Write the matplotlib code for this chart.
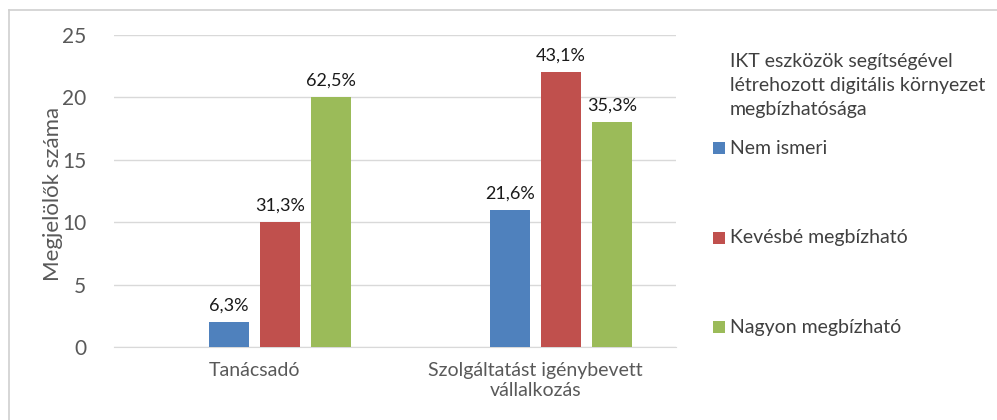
import numpy as np
import matplotlib.pyplot as plt
from matplotlib.patches import Rectangle
from matplotlib.lines import Line2D

plt.rcParams['font.family'] = ['Lato', 'DejaVu Sans']

categories = ['Tanácsadó', 'Szolgáltatást igénybevett\nvállalkozás']
series = ['Nem ismeri', 'Kevésbé megbízható', 'Nagyon megbízható']
counts = [
    [2, 11],
    [10, 22],
    [20, 18],
]
pct_labels = [
    ['6,3%', '21,6%'],
    ['31,3%', '43,1%'],
    ['62,5%', '35,3%'],
]
colors = ['#4F81BD', '#C0504D', '#9BBB59']
legend_title = 'IKT eszközök segítségével\nlétrehozott digitális környezet\nmegbízhatósága'

W, H = 997, 420
fig = plt.figure(figsize=(W / 100, H / 100), dpi=100)
ax = fig.add_axes([114 / W, 1 - 347 / H, (676 - 114) / W, (347 - 35) / H])

x = np.arange(len(categories))
slot = 0.1815
width = 0.142
# Excel layout leaves an empty first slot, so bars sit right of center
offsets = [-0.5 * slot, 0.5 * slot, 1.5 * slot]

for i, name in enumerate(series):
    bars = ax.bar(x + offsets[i], counts[i], width, color=colors[i], label=name, zorder=3)
    for b, lab in zip(bars, pct_labels[i]):
        ax.annotate(lab, (b.get_x() + b.get_width() / 2, b.get_height()),
                    xytext=(0, 6), textcoords='offset points',
                    ha='center', va='bottom', fontsize=13, color='#1a1a1a')

ax.set_xlim(-0.5, 1.5)
ax.set_ylim(0, 25)
ax.set_yticks([0, 5, 10, 15, 20, 25])
ax.set_xticks(x)
ax.set_xticklabels(categories, fontsize=14, color='#595959', linespacing=1.2)
ax.tick_params(axis='y', labelsize=15, colors='#595959', length=0, pad=20)
ax.tick_params(axis='x', length=0, pad=11)
ax.yaxis.grid(True, color='#d9d9d9', linewidth=1, zorder=0)
for s in ['top', 'right', 'left']:
    ax.spines[s].set_visible(False)
ax.spines['bottom'].set_color('#d9d9d9')
ax.set_ylabel('Megjelölők száma', fontsize=16, color='#595959', va='center')
ax.yaxis.set_label_coords(-0.1085, 0.49)

# legend drawn by hand to match Excel spacing
fig.text(730 / W, 1 - 86 / H, legend_title, fontsize=14, color='#404040',
         ha='left', va='center', linespacing=1.5)
for name, c, yc in zip(series, colors, [148, 238, 327]):
    fig.add_artist(Rectangle((713 / W, 1 - (yc + 6) / H), 12 / W, 12 / H,
                             transform=fig.transFigure, facecolor=c, edgecolor='none'))
    fig.text(730 / W, 1 - yc / H, name, fontsize=14, color='#404040',
             ha='left', va='center')

fig.add_artist(Line2D([9 / W, 9 / W], [0, 1 - 10 / H], color='#d0d0d0', lw=1.2))
fig.add_artist(Line2D([9 / W, 1], [1 - 10 / H, 1 - 10 / H], color='#d0d0d0', lw=1.2))

fig.savefig('out.png', dpi=100)
